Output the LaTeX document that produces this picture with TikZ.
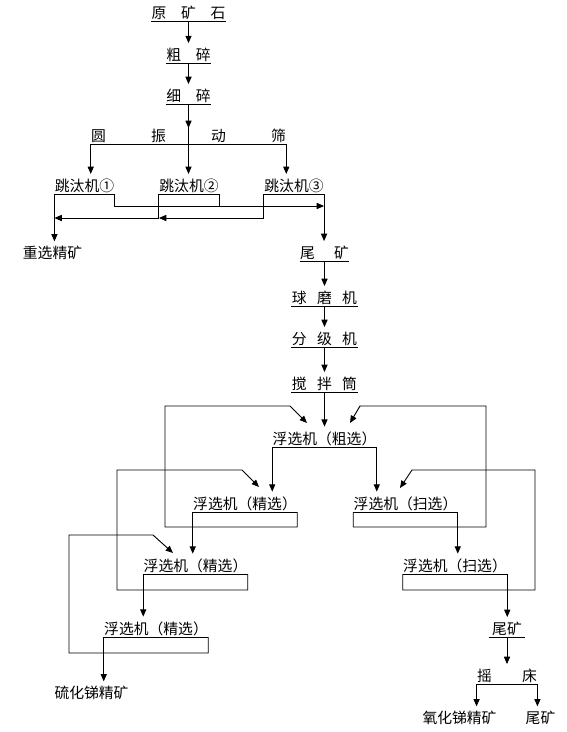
\documentclass[tikz,border=0pt]{standalone}
\usepackage{fontspec}
\setmainfont{Noto Sans CJK SC}
\usetikzlibrary{arrows.meta}

\begin{document}
\begin{tikzpicture}[
  x=0.75pt,
  y=-0.75pt,
  line width=0.7pt,
  flow/.style={
    -{Triangle[length=5.5pt,width=4.6pt]}
  },
  into/.style={
    flow,
    shorten >=2.5pt
  },
  stage/.style={
    anchor=south,
    inner xsep=0pt,
    inner ysep=0.75pt,
    font=\fontsize{11.1pt}{13pt}\selectfont
  },
  product/.style={
    stage,
    anchor=center
  }
]
  \useasboundingbox (0,0) rectangle (567,732);

  \node[stage] (ore) at (188.5,21) {原\hspace{1em}矿\hspace{1em}石};
  \node[stage] (crush) at (188.5,63) {粗\hspace{1em}碎};
  \node[stage] (grind) at (188.5,104) {细\hspace{1em}碎};
  \node[stage] (screen) at (188.5,144)
    {圆\hspace{3.05em}振\hspace{3.05em}动\hspace{3.05em}筛};
  \node[stage] (jig1) at (84.5,194) {跳汰机①};
  \node[stage] (jig2) at (189,194) {跳汰机②};
  \node[stage] (jig3) at (294,194) {跳汰机③};
  \node[product] (gravity) at (52.5,253) {重选精矿};
  \node[stage] (tail) at (324.5,261) {尾\hspace{1.3em}矿};
  \node[stage] (mill) at (324.5,306) {球\hspace{0.7em}磨\hspace{0.7em}机};
  \node[stage] (classer) at (324.5,347) {分\hspace{0.7em}级\hspace{0.7em}机};
  \node[stage] (tank) at (324.5,392) {搅\hspace{0.7em}拌\hspace{0.7em}筒};
  \node[stage] (rough) at (324.5,447) {浮选机（粗选）};
  \node[stage] (clean1) at (245,512) {浮选机（精选）};
  \node[stage] (scav1) at (405.5,512) {浮选机（扫选）};
  \node[stage] (clean2) at (195.5,574) {浮选机（精选）};
  \node[stage] (scav2) at (455,574) {浮选机（扫选）};
  \node[stage] (clean3) at (156,637) {浮选机（精选）};
  \node[product] (sulfide) at (91.5,693) {硫化锑精矿};
  \node[stage,inner xsep=2.4pt] (tail2) at (507,637) {尾矿};
  \node[stage] (table) at (507,684) {摇\hspace{2.05em}床};
  \node[product] (oxide) at (459.5,718) {氧化锑精矿};
  \node[product] (tail3) at (540.5,718) {尾矿};

  \foreach \n in {ore,crush,grind,screen,tail,mill,classer,tank,tail2,table,
    jig1,jig2,jig3,rough,clean1,scav1,clean2,scav2,clean3}
    \draw (\n.south west) -- (\n.south east);

  \draw[into] (ore.south) -- (crush.north);
  \draw[into] (crush.south) -- (grind.north);
  \draw[flow] (grind.south) -- ++(0,24);
  \draw (grind.south) -- (screen.south);
  \draw[into] (screen.south west) -- (screen.south west |- jig1.north);
  \draw[into] (screen.south) -- (screen.south |- jig2.north);
  \draw[into] (screen.south east) -- (screen.south east |- jig3.north);

  \coordinate (tails) at (0,206);
  \coordinate (concs) at (0,218);
  \draw[into] (jig1.south west) -- (jig1.south west |- gravity.north);
  \draw[flow] (jig1.south east) |- (jig3.south east |- tails);
  \draw (jig2.south east) -- (jig2.south east |- tails);
  \draw[flow] (jig3.south west) |- (jig2.south west |- concs);
  \draw[flow] (jig2.south west) -- (jig2.south west |- concs)
    -- (jig1.south west |- concs);
  \draw[into] (jig3.south east) -- (jig3.south east |- tail.north);

  \draw[into] (tail.south) -- (mill.north);
  \draw[into] (mill.south) -- (classer.north);
  \draw[into] (classer.south) -- (tank.north);
  \draw[into] (tank.south) -- (rough.north);
  \draw[into] (rough.south west) -- (rough.south west |- clean1.north);
  \draw[into] (rough.south east) -- (rough.south east |- scav1.north);

  \coordinate (back1) at (165,406);
  \coordinate (bend1) at (290,406);
  \coordinate (in1) at (307,423);
  \draw[flow] (clean1.south east) -- ++(0,15) -| (back1) -- (bend1) -- (in1);
  \coordinate (back2) at (486,406);
  \coordinate (bend2) at (360,406);
  \coordinate (in2) at (350,423);
  \draw[flow] (scav1.south west) -- ++(0,15) -| (back2) -- (bend2) -- (in2);
  \draw[into] (clean1.south west) -- (clean1.south west |- clean2.north);
  \draw[into] (scav1.south east) -- (scav1.south east |- scav2.north);

  \coordinate (back3) at (117,470);
  \coordinate (bend3) at (242,470);
  \coordinate (in3) at (259,487);
  \draw[flow] (clean2.south east) -- ++(0,16) -| (back3) -- (bend3) -- (in3);
  \coordinate (back4) at (535,470);
  \coordinate (bend4) at (412,470);
  \coordinate (in4) at (400,488);
  \draw[flow] (scav2.south west) -- ++(0,16) -| (back4) -- (bend4) -- (in4);
  \draw[into] (clean2.south west) -- (clean2.south west |- clean3.north);
  \draw[into] (scav2.south east) -- (scav2.south east |- tail2.north);

  \coordinate (back5) at (69,535);
  \coordinate (bend5) at (153,535);
  \coordinate (in5) at (173,553);
  \draw[flow] (clean3.south east) -- ++(0,16) -| (back5) -- (bend5) -- (in5);
  \draw[into] (clean3.south west) -- (clean3.south west |- sulfide.north);

  \draw[into] (tail2.south) -- (table.north);
  \draw[into] (table.south west) -- (table.south west |- oxide.north);
  \draw[into] (table.south east) -- (table.south east |- tail3.north);
\end{tikzpicture}
\end{document}
